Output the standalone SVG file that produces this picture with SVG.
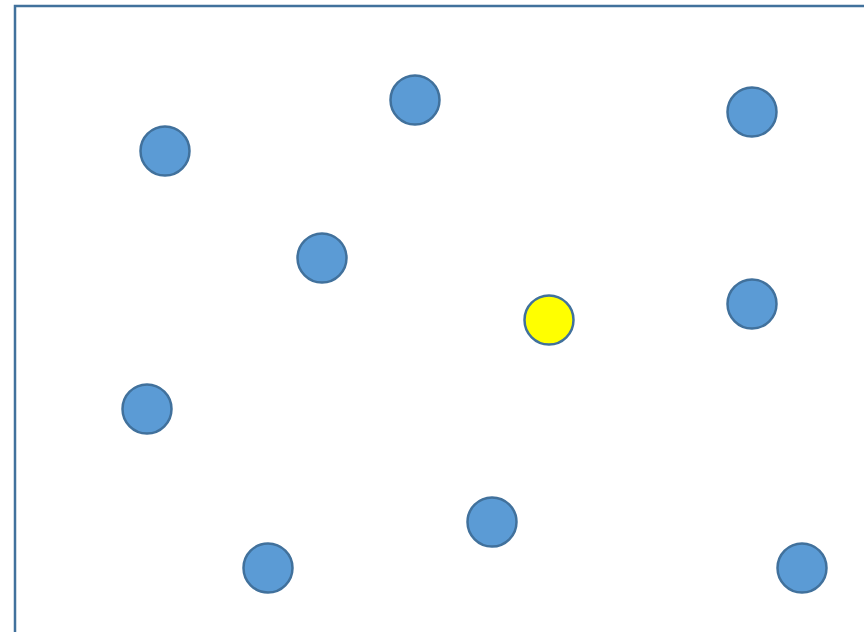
<svg xmlns="http://www.w3.org/2000/svg" width="864" height="632" viewBox="0 0 864 632">
<style>
.frame{fill:none;stroke:#41719C;stroke-width:2.5}
.n{fill:#5B9BD5;stroke:#41719C;stroke-width:2.5}
.y{fill:#FFFF00;stroke:#41719C;stroke-width:2.5}
</style>
<rect width="864" height="632" fill="#FFFFFF"/>
<rect class="frame" x="15" y="6" width="900" height="700"/>
<g id="connectors"></g>
<g id="n1"><circle class="n" cx="165" cy="151" r="24.5"/></g>
<g id="n2"><circle class="n" cx="415" cy="100" r="24.5"/></g>
<g id="n3"><circle class="n" cx="752" cy="112" r="24.5"/></g>
<g id="n4"><circle class="n" cx="322" cy="258" r="24.5"/></g>
<g id="n5"><circle class="y" cx="549" cy="320" r="24.5"/></g>
<g id="n6"><circle class="n" cx="752" cy="304" r="24.5"/></g>
<g id="n7"><circle class="n" cx="147" cy="409" r="24.5"/></g>
<g id="n8"><circle class="n" cx="492" cy="522" r="24.5"/></g>
<g id="n9"><circle class="n" cx="268" cy="568" r="24.5"/></g>
<g id="n10"><circle class="n" cx="802" cy="568" r="24.5"/></g>
</svg>
